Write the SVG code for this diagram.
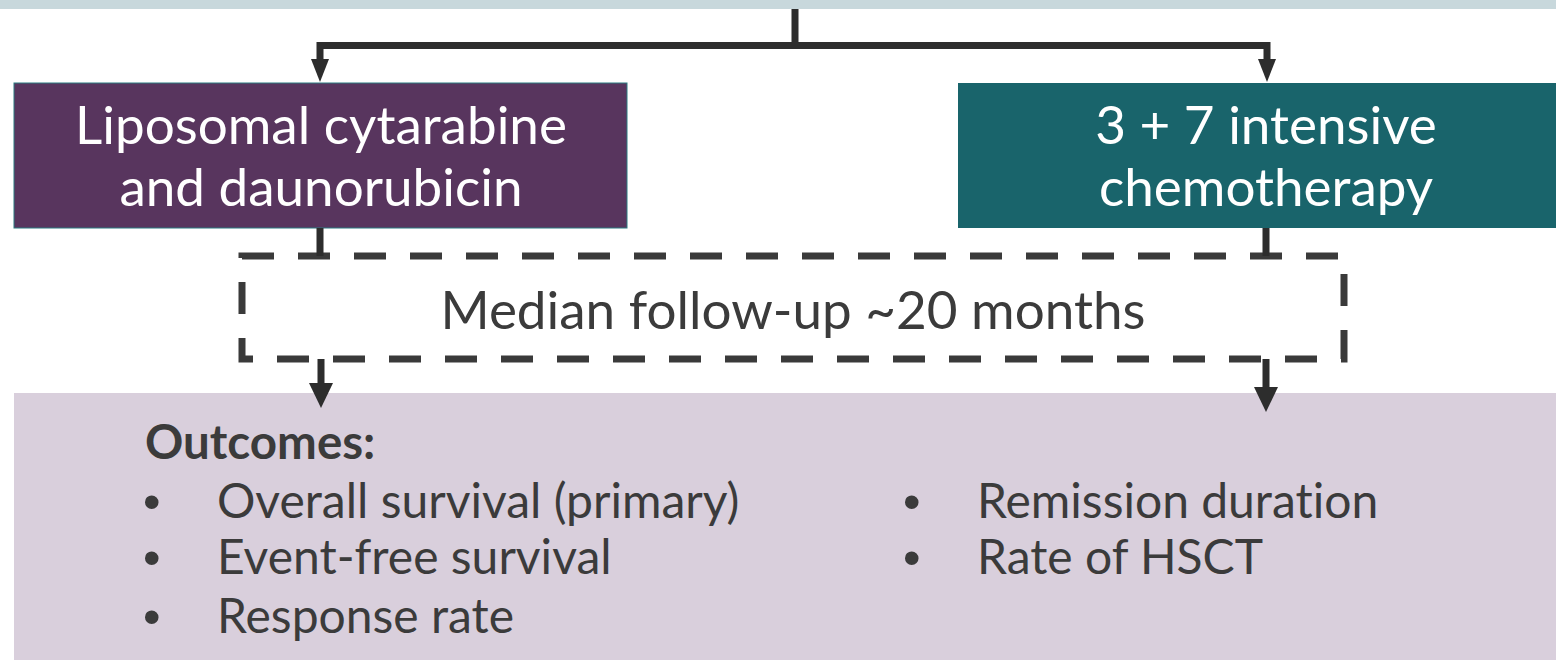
<svg xmlns="http://www.w3.org/2000/svg" width="1556" height="660" viewBox="0 0 1556 660">
<defs>
<style>
.conn{stroke:#2d2d2d;stroke-width:7;fill:none}
.box{font-family:Lato,"Open Sans",sans-serif;font-size:53px;fill:#ffffff;text-anchor:middle;font-variant-ligatures:none}
.body{font-family:Lato,"Open Sans",sans-serif;font-size:48px;fill:#3b3b3b;font-variant-ligatures:none}
.bul{font-family:"Liberation Sans",Arial,sans-serif;font-size:50px;fill:#3b3b3b}
</style>
</defs>
<rect x="0" y="0" width="1556" height="9" fill="#c8d8dc"/>
<g id="arm-left">
<rect x="14" y="83" width="613" height="145" fill="#58355e" stroke="#2b7a80" stroke-width="1"/>
<text class="box" x="321" y="144">Liposomal cytarabine</text>
<text class="box" x="321" y="206">and daunorubicin</text>
</g>
<g id="arm-right">
<rect x="958" y="83" width="600" height="145" fill="#19646b"/>
<text class="box" x="1266" y="144">3 + 7 intensive</text>
<text class="box" x="1266" y="206">chemotherapy</text>
</g>
<g id="followup">
<rect x="242" y="256" width="1102" height="103" fill="none" stroke="#3a3a3a" stroke-width="7" stroke-dasharray="32,24"/>
<text class="body" x="793" y="329" text-anchor="middle" style="font-size:53px">Median follow-up ~20 months</text>
</g>
<g id="outcomes">
<rect x="14" y="393" width="1542" height="267" fill="#d9cfdc"/>
<text class="body" x="145" y="459" style="font-weight:bold;font-size:47.5px">Outcomes:</text>
<text class="bul" x="143" y="519">•</text>
<text class="body" x="217" y="518">Overall survival (primary)</text>
<text class="bul" x="143" y="575">•</text>
<text class="body" x="217" y="574">Event-free survival</text>
<text class="bul" x="143" y="634">•</text>
<text class="body" x="217" y="633">Response rate</text>
<text class="bul" x="903" y="519">•</text>
<text class="body" x="977" y="518">Remission duration</text>
<text class="bul" x="903" y="575">•</text>
<text class="body" x="977" y="574">Rate of HSCT</text>
</g>
<g id="connectors">
<path class="conn" d="M795 9 V45.5 M320 62 V45.5 H1267 V62"/>
<path d="M311 59 L329 59 L320 82 Z" fill="#2d2d2d"/>
<path d="M1258 59 L1276 59 L1267 82 Z" fill="#2d2d2d"/>
<path class="conn" d="M320 228 V256 M1266 228 V256"/>
<path class="conn" d="M321 359 V385 M1266 359 V388"/>
<path d="M309 383 L333 383 L321 408 Z" fill="#2d2d2d"/>
<path d="M1254 387 L1278 387 L1266 412 Z" fill="#2d2d2d"/>
</g>
</svg>
